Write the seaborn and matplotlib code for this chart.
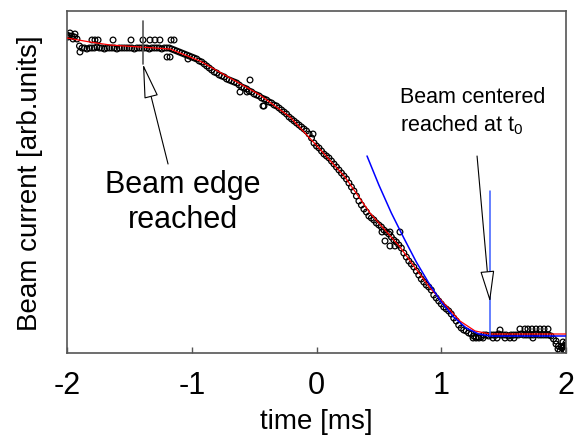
import numpy as np
import pandas as pd
import matplotlib
matplotlib.use("Agg")
import matplotlib.pyplot as plt
import seaborn as sns

# ---- data (arbitrary units) ----
# main sampled trace: time grid -2..2 ms in 0.02 ms steps
main_current = [
    318, 317, 317, 316, 314, 307,
    305, 305, 304, 305, 305, 305, 306, 305, 305, 304, 305, 305, 305, 305, 304, 305, 305, 305,
    305, 305, 305, 304, 305, 305, 305, 305, 305, 304, 305, 305, 305, 305, 304, 305, 305, 305,
    304, 303, 302, 301, 300, 299, 298, 297, 296, 295, 294, 292, 291, 289, 287, 285, 283, 281,
    280, 278, 277, 276, 274, 273, 272, 271, 270, 268, 266, 265, 264, 262, 261, 259, 258, 257,
    255, 254, 253, 251, 250, 248, 247, 245, 243, 241, 239, 236, 234, 232, 230, 228, 226, 224,
    222, 219, 215, 210, 207, 205, 202, 199, 197, 195, 192, 189, 186, 183, 180, 177, 174, 170,
    166, 162, 157, 152, 148, 144, 141, 137, 135, 133, 130, 128, 126, 123, 121, 119, 116, 113,
    111, 108, 105, 100, 96, 92, 89, 86, 82, 78, 74, 71, 68, 66, 63, 58, 55, 52, 49, 46,
    44, 42, 39, 35, 32, 28, 25, 23, 22, 20, 19, 17, 16, 16, 16,
    18, 18, 17, 18, 18, 18, 19, 18, 18, 18, 17, 18, 18, 18, 18, 19, 18, 18, 18, 18, 18, 19,
    18, 18, 18, 18, 18,
    17, 14, 9, 7, 6, 7, 8,
]
main_time = np.round(np.linspace(-2, 2, len(main_current)), 3)

# scattered extra samples
extra_time = [-1.976, -1.952, -1.992, -1.936, -1.896,
              -1.800, -1.776, -1.751, -1.631, -1.487, -1.391, -1.335, -1.295, -1.255, -1.166, -1.142,
              -1.198, -1.174, -1.030,
              -0.533, -0.421, -0.613, -0.557, -0.429, -0.028,
              0.549, 0.589, 0.629, 0.669, 0.525, 0.589,
              1.255, 1.279, 1.303, 1.335, 1.415, 1.447, 1.511, 1.551, 1.583, 1.735,
              1.631, 1.671, 1.695, 1.727, 1.760, 1.792, 1.824, 1.856, 1.471,
              1.920, 1.936, 1.952, 1.968, 1.984, 2.000, 2.000, 1.976]
extra_current = [320, 314, 316, 319, 301,
                 313, 313, 313, 313, 313, 313, 313, 313, 313, 313, 313,
                 296, 296, 294,
                 273, 247, 261, 261, 247, 219,
                 112, 107, 107, 121, 121, 121,
                 15, 15, 15, 15, 15, 15, 15, 15, 15, 15,
                 24, 24, 24, 24, 24, 24, 24, 24, 23,
                 12, 4, 2, 5, 3, 10, 2, 11]

# smoothed fit (red)
fit_time = [-2.0, -1.816, -1.655, -1.415, -1.174, -0.934, -0.693, -0.453, -0.212,
            0.012, 0.228, 0.429, 0.669, 0.910, 1.150, 1.271, 1.391, 2.0]
fit_current = [315, 311, 308, 306, 304, 292, 275, 258, 236,
               206, 176, 140, 106, 65, 32, 22, 19, 19]

# model curve near beam centre (blue)
model_time = [0.405, 0.5, 0.6, 0.7, 0.8, 0.9, 1.0, 1.1, 1.2, 1.3, 1.391, 2.0]
model_current = [197, 168, 140, 115, 91, 70, 51, 36, 25, 19, 17, 17]

t_edge = -1.391
t_zero = 1.391

x_ticks = [-2, -1, 0, 1, 2]

df_pts = pd.DataFrame({"time": list(main_time) + extra_time,
                       "current": main_current + extra_current})
df_fit = pd.DataFrame({"time": fit_time, "current": fit_current})
df_mod = pd.DataFrame({"time": model_time, "current": model_current})

# ---- style ----
sns.set_style("white")
plt.rcParams["font.family"] = ["Liberation Sans", "DejaVu Sans"]
plt.rcParams["axes.unicode_minus"] = False
plt.rcParams["text.color"] = "black"
plt.rcParams["axes.labelcolor"] = "black"
plt.rcParams["xtick.color"] = "black"
plt.rcParams["xtick.labelcolor"] = "black"

fig = plt.figure(figsize=(5.8, 4.39), dpi=100)
ax = fig.add_axes([67 / 580, (439 - 354) / 439, (566 - 67) / 580, (354 - 12) / 439])

sns.scatterplot(data=df_pts, x="time", y="current", ax=ax, marker="o",
                facecolor="none", edgecolor="black", s=17, linewidth=0.9, zorder=2)
sns.lineplot(data=df_fit, x="time", y="current", ax=ax, color="red", lw=0.9,
             sort=False, estimator=None, zorder=3)
sns.lineplot(data=df_mod, x="time", y="current", ax=ax, color="#0000ff", lw=1.1,
             sort=False, estimator=None, zorder=4)

# markers of edge / centre
ax.plot([t_edge, t_edge], [289, 332], color="#555555", lw=1.2, zorder=5)
ax.plot([t_zero, t_zero], [18, 162], color="#3a5cff", lw=1.1, zorder=5)

ax.annotate("", xy=(t_edge, 289), xytext=(-1.19, 189),
            arrowprops=dict(arrowstyle="-|>,head_length=2.2,head_width=0.45",
                            fc="white", ec="black", lw=0.8, shrinkA=0, shrinkB=0,
                            mutation_scale=10), zorder=6)
ax.annotate("", xy=(t_zero, 51), xytext=(1.287, 197),
            arrowprops=dict(arrowstyle="-|>,head_length=2.0,head_width=0.45",
                            fc="white", ec="black", lw=0.8, shrinkA=0, shrinkB=0,
                            mutation_scale=10), zorder=6)

ax.text(-1.07, 184, "Beam edge\nreached", fontsize=22, ha="center", va="top",
        multialignment="center", linespacing=1.2, color="black")
ax.text(0.669, 267, "Beam centered\nreached at t$_\\mathregular{0}$", fontsize=15.5,
        ha="left", va="top", linespacing=1.3, color="black")

ax.set_xlim(-2, 2)
ax.set_ylim(0, 342)
ax.set_xticks(x_ticks)
ax.set_xticklabels([str(v) for v in x_ticks], fontsize=22)
ax.set_yticks([])
ax.tick_params(axis="x", direction="in", length=4, width=1, color="#555555",
               labelcolor="black", pad=12, bottom=True)
for s in ax.spines.values():
    s.set_color("#555555")
    s.set_linewidth(1.2)
    s.set_visible(True)

ax.set_xlabel("time [ms]", fontsize=20, labelpad=6, color="black")
ax.set_ylabel("Beam current [arb.units]", fontsize=20, labelpad=17, color="black")

fig.savefig("out.png", dpi=100)
